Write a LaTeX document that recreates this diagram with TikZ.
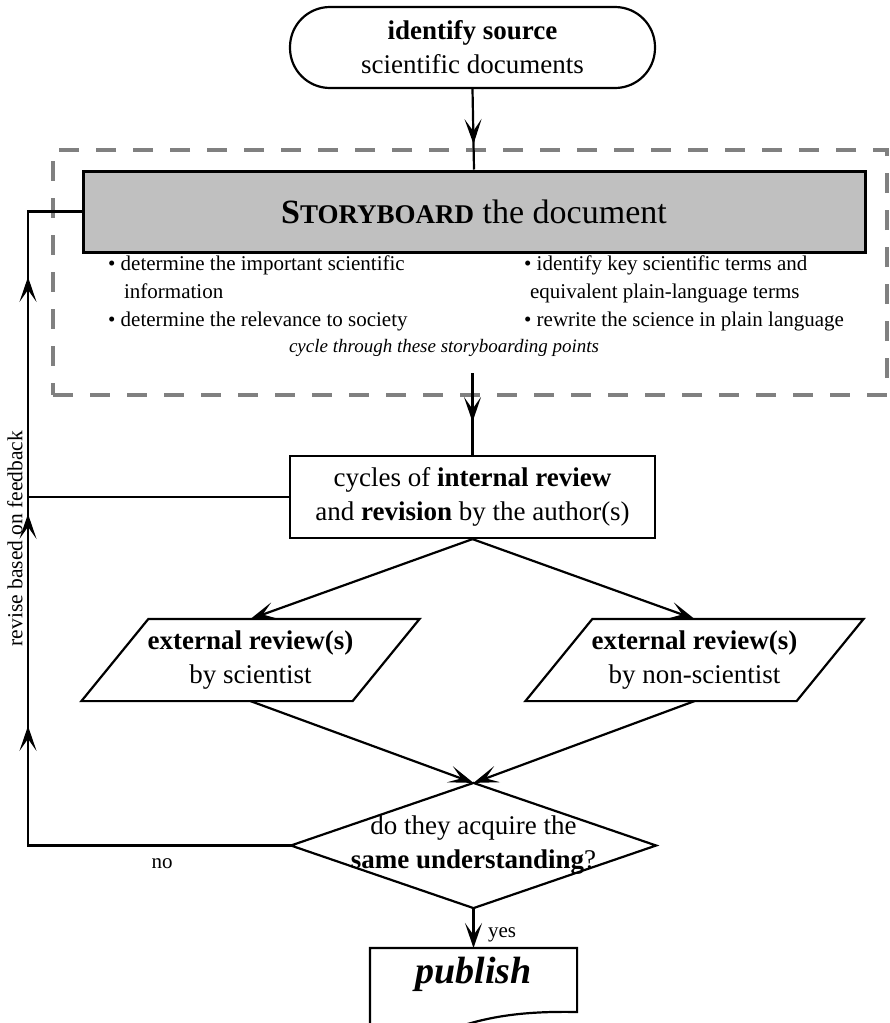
\documentclass[tikz,border=0pt]{standalone}
\usepackage{fontspec}
\setmainfont{Liberation Serif}
\usetikzlibrary{arrows.meta,decorations.markings}
\definecolor{panelgray}{RGB}{192,192,192}
\definecolor{framegray}{RGB}{128,128,128}
\newcommand\txtmain{\fontsize{27pt}{34pt}\selectfont}
\newcommand\txtsmall{\fontsize{21pt}{28pt}\selectfont}
\newcommand\txtnote{\fontsize{19pt}{24pt}\selectfont}
\newcommand\txthead{\fontsize{34pt}{40pt}\selectfont}
\newcommand\txtpub{\fontsize{38pt}{44pt}\selectfont}

\begin{document}
\begin{tikzpicture}[x=1pt,y=-1pt,line width=2.2pt,
  >={Stealth[length=25pt,width=17pt,inset=12pt]},
  flowbox/.style={draw,minimum width=365pt,minimum height=82pt,align=center,font=\txtmain,inner sep=0pt},
  slantbox/.style={minimum width=269pt,minimum height=80pt,align=center,font=\txtmain,inner sep=0pt},
  bullet/.style={anchor=base west,font=\txtsmall,inner sep=0pt},
  edgelabel/.style={font=\txtsmall,inner sep=0pt},
  midtip/.style={postaction={decorate},decoration={markings,mark=at position #1 with {\arrow{>}}}},
]
\useasboundingbox (0,0) rectangle (890,1023);
\clip (0,0) rectangle (890,1023);

% dashed frame around the storyboarding stage
\node[draw=framegray,line width=4pt,dash pattern=on 20pt off 17pt,
      minimum width=834pt,minimum height=245pt,inner sep=0pt] (group) at (470,272.5) {};

% start terminal
\node[draw,rounded corners=40pt,minimum width=365pt,minimum height=81pt,
      align=center,font=\txtmain,inner sep=0pt] (src) at (472.5,47.5)
      {\textbf{identify source}\\scientific documents};

% storyboard stage
\node[draw,line width=3pt,fill=panelgray,minimum width=782pt,minimum height=81pt,
      inner sep=0pt,font=\txthead] (story) at (474,211.5)
      {\textbf{S{\fontsize{27pt}{30pt}\selectfont TORYBOARD}} the document\hspace{14pt}};

\node[bullet] (b1)  at (107,270) {•\ determine the important scientific};
\node[bullet] (b1b) at (123,298) {information};
\node[bullet] (b2)  at (107,326) {•\ determine the relevance to society};
\node[bullet] (b3)  at (523,270) {•\ identify key scientific terms and};
\node[bullet] (b3b) at (529,298) {equivalent plain-language terms};
\node[bullet] (b4)  at (523,326) {•\ rewrite the science in plain language};
\node[anchor=base,font=\txtnote\itshape,inner sep=0pt] (cyc) at (444,352)
      {cycle through these storyboarding points};
\coordinate (sbout) at (472.5,373);

% internal review
\node[flowbox] (mid) at (472.5,497)
      {cycles of \textbf{internal review}\\and \textbf{revision} by the author(s)};

% external reviews (parallelograms)
\node[slantbox] (revS) at (250.5,660) {\textbf{external review(s)}\\by scientist};
\node[slantbox] (revN) at (694.5,660) {\textbf{external review(s)}\\by non-scientist};
\foreach \n in {revS,revN}
  \draw ([xshift=-33.5pt]\n.south west) -- ([xshift=-33.5pt]\n.south east)
        -- ([xshift=33.5pt]\n.north east) -- ([xshift=33.5pt]\n.north west) -- cycle;

% decision
\node[minimum width=363pt,minimum height=123pt,inner sep=0pt,align=center,font=\txtmain]
      (dia) at (473.5,845.5) {do they acquire the\\\textbf{same understanding}?};
\draw (dia.north) -- (dia.east) -- (dia.south) -- (dia.west) -- cycle;

% publish (document shape)
\node[anchor=north,minimum width=205pt,inner xsep=0pt,inner ysep=8pt,
      text height=26pt,text depth=50pt,font=\txtpub] (pub) at (473.5,948)
      {\textbf{\textit{publish}}};
\draw (pub.south west) -- (pub.north west) -- (pub.north east) -- (pub.north east |- 0,1012)
      .. controls (525,1011) and (490,1016) .. (455,1028)
      .. controls (420,1040) and (395,1042) .. (pub.south west);

% connectors
\draw[midtip=55pt] (src.south) -- (story.north);
\draw[midtip=49pt] (sbout) -- (mid.north);
\draw[->] (mid.south) -- (revS.north);
\draw[->] (mid.south) -- (revN.north);
\draw[->] (revS.south) -- (dia.north);
\draw[->] (revN.south) -- (dia.north);
\draw[->] (dia.south) -- (pub.north);
\node[edgelabel,anchor=base] (yes) at (502,937) {yes};

% feedback loop
\coordinate (fbx) at (28,0);
\draw[postaction={decorate},decoration={markings,
      mark=at position 382.5pt with {\arrow{>}},
      mark=at position 594.5pt with {\arrow{>}},
      mark=at position 831.5pt with {\arrow{>}}}]
  (dia.west) -- (dia.west -| fbx) -- (story.west -| fbx) -- (story.west);
\draw (mid.west) -- (mid.west -| fbx);
\node[edgelabel,anchor=base] (no) at (162,868) {no};
\node[font=\fontsize{21.5pt}{26pt}\selectfont,rotate=90,inner sep=0pt] (revise) at (15,538.5)
      {revise based on feedback};
\end{tikzpicture}
\end{document}
